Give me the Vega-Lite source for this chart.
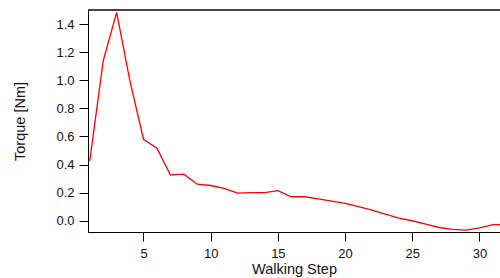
{
  "$schema": "https://vega.github.io/schema/vega-lite/v6.json",
  "autosize": {"type": "none"},
  "padding": {"left": 88, "top": 10, "right": 0, "bottom": 46},
  "width": 412,
  "height": 222,
  "background": "white",
  "config": {
    "view": {"stroke": null},
    "font": "Liberation Sans",
    "axis": {"grid": false, "domainColor": "#000", "tickColor": "#000", "labelColor": "#111", "titleColor": "#111", "titleFontWeight": "normal"}
  },
  "data": {"values": [
    {"step": 1, "torque": 0.426},
    {"step": 2, "torque": 1.137},
    {"step": 3, "torque": 1.483},
    {"step": 4, "torque": 0.99},
    {"step": 5, "torque": 0.58},
    {"step": 6, "torque": 0.517},
    {"step": 7, "torque": 0.327},
    {"step": 8, "torque": 0.332},
    {"step": 9, "torque": 0.26},
    {"step": 10, "torque": 0.251},
    {"step": 11, "torque": 0.23},
    {"step": 12, "torque": 0.197},
    {"step": 13, "torque": 0.2},
    {"step": 14, "torque": 0.2},
    {"step": 15, "torque": 0.215},
    {"step": 16, "torque": 0.171},
    {"step": 17, "torque": 0.171},
    {"step": 18, "torque": 0.156},
    {"step": 19, "torque": 0.14},
    {"step": 20, "torque": 0.123},
    {"step": 21, "torque": 0.1},
    {"step": 22, "torque": 0.076},
    {"step": 23, "torque": 0.048},
    {"step": 24, "torque": 0.019},
    {"step": 25, "torque": 0.0},
    {"step": 26, "torque": -0.024},
    {"step": 27, "torque": -0.048},
    {"step": 28, "torque": -0.062},
    {"step": 29, "torque": -0.066},
    {"step": 30, "torque": -0.05},
    {"step": 31, "torque": -0.028},
    {"step": 32, "torque": -0.028}
  ]},
  "encoding": {
    "y": {"type": "quantitative", "scale": {"domain": [-0.08, 1.5], "nice": false, "zero": false},
      "axis": {"values": [0, 0.2, 0.4, 0.6, 0.8, 1.0, 1.2, 1.4], "format": ".1f", "title": "Torque [Nm]", "titleFontSize": 14.5, "labelFontSize": 13, "tickSize": 9, "labelPadding": 5, "titlePadding": 28, "labelOverlap": false, "labelBound": false, "labelFlush": false}}
  },
  "layer": [
    {
      "mark": {"type": "line", "color": "#ff0000", "strokeWidth": 1.3, "clip": true},
      "encoding": {
        "x": {"field": "step", "type": "quantitative", "scale": {"domain": [0.87, 31.53], "nice": false, "zero": false},
          "axis": {"values": [5, 10, 15, 20, 25, 30], "title": "Walking Step", "titleFontSize": 14.5, "labelFontSize": 13, "tickSize": 9, "labelPadding": 6, "titlePadding": 2, "labelFlush": false, "labelOverlap": false}},
        "y": {"field": "torque"}
      }
    },
    {
      "mark": {"type": "rule", "color": "#444", "strokeWidth": 1.5},
      "encoding": {"y": {"datum": 1.5}}
    }
  ]
}
